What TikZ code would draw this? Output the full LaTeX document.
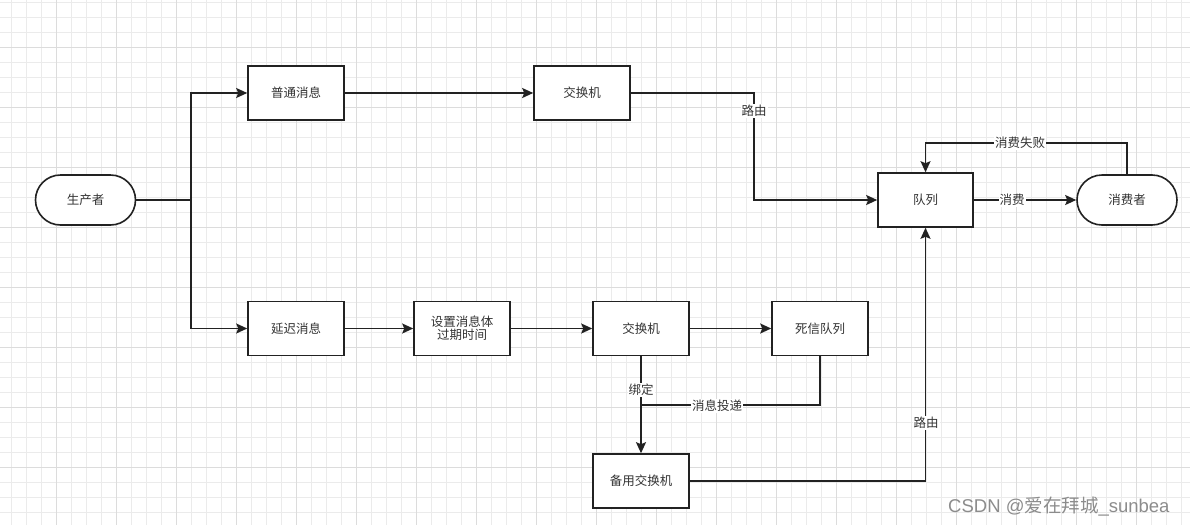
\documentclass[tikz,border=0pt]{standalone}
\usepackage{fontspec}
\setmainfont{Noto Sans CJK SC}
\newfontfamily\wmlat{Liberation Sans}
\usetikzlibrary{arrows.meta}
\definecolor{gmin}{HTML}{EBEBEB}
\definecolor{gmaj}{HTML}{DCDCDC}
\definecolor{ink}{HTML}{222222}
\definecolor{txt}{HTML}{333333}
\tikzset{
  box/.style={draw=ink, line width=1.6pt, fill=white, minimum width=96pt, minimum height=54pt, inner sep=2pt, text=txt, font=\fontsize{12.5}{15}\selectfont, align=center},
  pill/.style={box, rounded corners=25pt, minimum width=100pt, minimum height=50pt},
  conn/.style={draw=ink, line width=1.6pt, -{Stealth[length=11pt,width=10pt,inset=2pt]}},
  plain/.style={draw=ink, line width=1.6pt},
  lbl/.style={fill=white, inner sep=1pt, text=txt, font=\fontsize{12.5}{15}\selectfont},
}
\begin{document}
\begin{tikzpicture}[x=1pt,y=-1pt]
\useasboundingbox (0,0) rectangle (1190,525);
\fill[white] (0,0) rectangle (1190,525);
% grid
\foreach \i in {0,...,79} {
  \draw[gmin, line width=0.8pt] ({11.7+15*\i},0) -- ({11.7+15*\i},525);
}
\foreach \i in {0,...,35} {
  \draw[gmin, line width=0.8pt] (0,{2.7+15*\i}) -- (1190,{2.7+15*\i});
}
\foreach \i in {0,...,19} {
  \draw[gmaj, line width=0.8pt] ({56.7+60*\i},0) -- ({56.7+60*\i},525);
}
\foreach \i in {0,...,8} {
  \draw[gmaj, line width=0.8pt] (0,{47.7+60*\i}) -- (1190,{47.7+60*\i});
}
% nodes
\node[pill] (prod) at (85.5,200) {生产者};
\node[box] (n1) at (296,93) {普通消息};
\node[box] (ex1) at (582,93) {交换机};
\node[box, minimum width=95pt] (q) at (925.5,200) {队列};
\node[pill] (cons) at (1127,200) {消费者};
\node[box] (n2) at (296,328.5) {延迟消息};
\node[box] (ttl) at (462,328.5) {设置消息体\\[-2pt]过期时间};
\node[box] (ex2) at (641,328.5) {交换机};
\node[box] (dlq) at (820,328.5) {死信队列};
\node[box] (bx) at (641,481) {备用交换机};
% connectors
\draw[conn] (prod.east) -- (191,200) |- (n1.west);
\draw[conn] (191,200) |- (n2.west);
\draw[conn] (n1.east) -- (ex1.west);
\draw[conn] (ex1.east) -| (754,200) -- (q.west);
\node[lbl] (l1) at (754,111) {路由};
\draw[conn] (q.east) -- (cons.west);
\node[lbl] (l2) at (1012,200) {消费};
\draw[conn] (cons.north) |- (1020,143) -| (q.north);
\node[lbl] (l3) at (1020,143) {消费失败};
\draw[conn] (n2.east) -- (ttl.west);
\draw[conn] (ttl.east) -- (ex2.west);
\draw[conn] (ex2.east) -- (dlq.west);
\draw[conn] (ex2.south) -- (bx.north);
\node[lbl] (l4) at (641,390) {绑定};
\draw[plain] (dlq.south) |- (ex2.south |- 0,405);
\node[lbl] (l5) at (717,406) {消息投递};
\draw[conn] (bx.east) -| (q.south);
\node[lbl] (l6) at (926,423) {路由};
\node[text=black!45, font=\fontsize{18.5}{22}\selectfont, anchor=west, inner sep=0pt] (wm) at (948,507) {{\wmlat CSDN @}爱在拜城{\wmlat\_sunbea}};
\end{tikzpicture}
\end{document}
